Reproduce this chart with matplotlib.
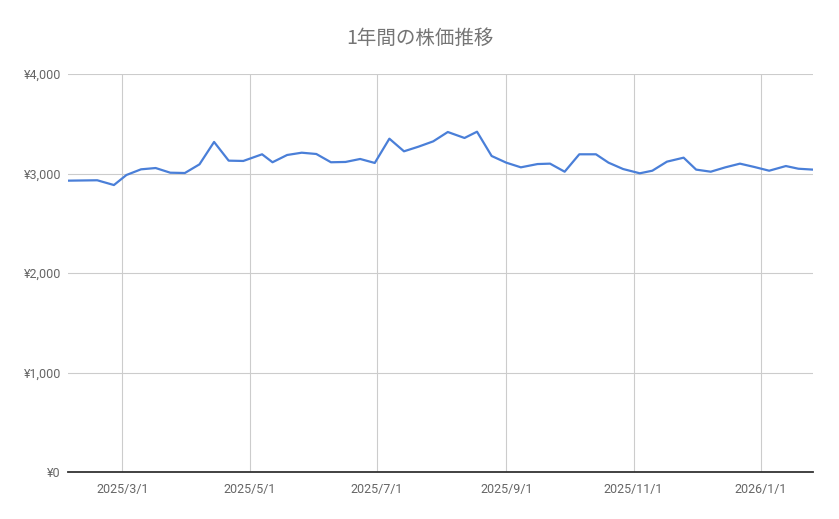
import matplotlib
matplotlib.use("Agg")
import matplotlib.pyplot as plt
import matplotlib.dates as mdates
import matplotlib.ticker as mticker
import pandas as pd

# ── data (weekly closes) ────────────────────────────────────────
dates = [
    "2025-02-03", "2025-02-10", "2025-02-17", "2025-02-25", "2025-03-03",
    "2025-03-10", "2025-03-17", "2025-03-24", "2025-03-31", "2025-04-07",
    "2025-04-14", "2025-04-21", "2025-04-28", "2025-05-07", "2025-05-12",
    "2025-05-19", "2025-05-26", "2025-06-02", "2025-06-09", "2025-06-16",
    "2025-06-23", "2025-06-30", "2025-07-07", "2025-07-14", "2025-07-21",
    "2025-07-28", "2025-08-04", "2025-08-12", "2025-08-18", "2025-08-25",
    "2025-09-01", "2025-09-08", "2025-09-16", "2025-09-22", "2025-09-29",
    "2025-10-06", "2025-10-14", "2025-10-20", "2025-10-27", "2025-11-04",
    "2025-11-10", "2025-11-17", "2025-11-25", "2025-12-01", "2025-12-08",
    "2025-12-15", "2025-12-22", "2025-12-29", "2026-01-05", "2026-01-13",
    "2026-01-19", "2026-01-26",
]
prices = [
    2928, 2930, 2932, 2884, 2985, 3042, 3055, 3008, 3005, 3092,
    3317, 3129, 3126, 3193, 3113, 3186, 3209, 3196, 3113, 3116,
    3146, 3106, 3350, 3223, 3270, 3323, 3417, 3357, 3420, 3176,
    3109, 3062, 3095, 3099, 3018, 3193, 3193, 3109, 3045, 3002,
    3028, 3119, 3159, 3039, 3018, 3062, 3099, 3065, 3028, 3075,
    3048, 3039,
]
title = "1年間の株価推移"
y_ticks = [0, 1000, 2000, 3000, 4000]

x = pd.to_datetime(dates)

# ── style ────────────────────────────────────────────────────────
LINE_C, GRID_C, TEXT_C = "#4a7fd8", "#cccccc", "#666666"
plt.rcParams["font.family"] = ["Roboto", "DejaVu Sans"]

fig = plt.figure(figsize=(8.39, 5.19), dpi=100)
ax = fig.add_axes([68 / 839, 1 - 472 / 519, 745 / 839, 398 / 519])

ax.plot(x, prices, color=LINE_C, lw=1.6, solid_joinstyle="round", zorder=3)

ax.set_xlim(x[0], x[-1])
ax.set_ylim(0, 4000)
ax.set_yticks(y_ticks)
ax.yaxis.set_major_formatter(mticker.FuncFormatter(lambda v, _: f"¥{int(v):,}"))
ax.xaxis.set_major_locator(mdates.MonthLocator(bymonth=[1, 3, 5, 7, 9, 11]))
ax.xaxis.set_major_formatter(
    mticker.FuncFormatter(lambda v, _: (lambda d: f"{d.year}/{d.month}/{d.day}")(mdates.num2date(v))))

ax.grid(True, color=GRID_C, lw=0.8, zorder=0)
for s in ("top", "right", "left"):
    ax.spines[s].set_visible(False)
ax.spines["bottom"].set_color("#333333")
ax.spines["bottom"].set_linewidth(1.3)
ax.spines["bottom"].set_zorder(4)
ax.tick_params(length=0, colors=TEXT_C, labelsize=9)
ax.tick_params(axis="x", pad=8)
ax.tick_params(axis="y", pad=5)

fig.text(0.5, 1 - 38 / 519, title, ha="center", va="center", fontsize=14,
         color="#757575", family=["Noto Sans CJK JP", "DejaVu Sans"])

fig.savefig("out.png", dpi=100)
